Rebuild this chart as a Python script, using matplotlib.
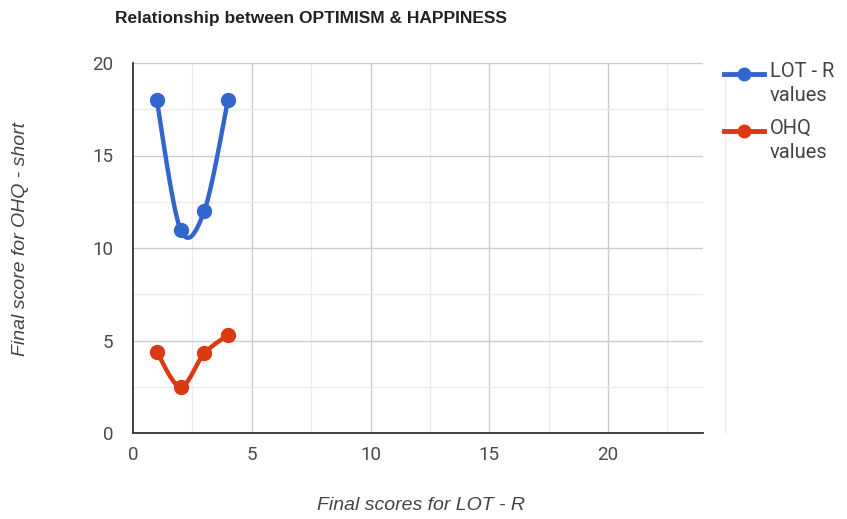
import numpy as np
import matplotlib
matplotlib.use("Agg")
import matplotlib.pyplot as plt
from matplotlib.lines import Line2D

# data
lot_x = [1, 2, 3, 4]
lot_y = [18, 11, 12, 18]
ohq_x = [1, 2, 3, 4]
ohq_y = [4.4, 2.5, 4.3, 5.3]
series_names = ["LOT - R\nvalues", "OHQ\nvalues"]
x_ticks = [0, 5, 10, 15, 20]
y_ticks = [0, 5, 10, 15, 20]

blue = "#3366cc"
red = "#dc3912"


def smooth(xs, ys, n=40):
    # catmull-rom like curve, roughly what google charts draws
    xs = np.asarray(xs, float)
    ys = np.asarray(ys, float)
    px, py = [], []
    for i in range(len(xs) - 1):
        x0, y0 = (xs[i - 1], ys[i - 1]) if i > 0 else (xs[i], ys[i])
        x3, y3 = (xs[i + 2], ys[i + 2]) if i + 2 < len(xs) else (xs[i + 1], ys[i + 1])
        x1, y1, x2, y2 = xs[i], ys[i], xs[i + 1], ys[i + 1]
        mx1, my1 = (x2 - x0) / 2, (y2 - y0) / 2
        mx2, my2 = (x3 - x1) / 2, (y3 - y1) / 2
        t = np.linspace(0, 1, n)
        h00 = 2 * t**3 - 3 * t**2 + 1
        h10 = t**3 - 2 * t**2 + t
        h01 = -2 * t**3 + 3 * t**2
        h11 = t**3 - t**2
        px.extend(h00 * x1 + h10 * mx1 + h01 * x2 + h11 * mx2)
        py.extend(h00 * y1 + h10 * my1 + h01 * y2 + h11 * my2)
    return px, py


fig = plt.figure(figsize=(8.47, 5.19), dpi=100)
ax = fig.add_axes([133 / 847, 1 - 433 / 519, 570 / 847, 370 / 519])

ax.set_xlim(0, 24)
ax.set_ylim(0, 20)

# grid
for v in np.arange(2.5, 24, 2.5):
    ax.axvline(v, color="#cccccc" if v % 5 == 0 else "#ebebeb", lw=1, zorder=0)
for v in np.arange(2.5, 20.1, 2.5):
    ax.axhline(v, color="#cccccc" if v % 5 == 0 else "#ebebeb", lw=1, zorder=0)

sx, sy = smooth(lot_x, lot_y)
ax.plot(sx, sy, color=blue, lw=3.2, solid_capstyle="round", zorder=3)
ax.plot(lot_x, lot_y, "o", color=blue, ms=10, zorder=4)
sx, sy = smooth(ohq_x, ohq_y)
ax.plot(sx, sy, color=red, lw=3.2, solid_capstyle="round", zorder=3)
ax.plot(ohq_x, ohq_y, "o", color=red, ms=10, zorder=4)

for s in ["top", "right"]:
    ax.spines[s].set_visible(False)
for s in ["left", "bottom"]:
    ax.spines[s].set_color("#333333")
    ax.spines[s].set_linewidth(1.3)
    ax.spines[s].set_zorder(5)

ax.set_xticks(x_ticks)
ax.set_yticks(y_ticks)
ax.tick_params(length=0, labelsize=13.5, labelcolor="#4a4a4a", pad=9)
ax.tick_params(axis="y", pad=14)
for lab in ax.get_xticklabels() + ax.get_yticklabels():
    lab.set_fontfamily("Roboto")

fig.text(115 / 847, 1 - 19 / 519, "Relationship between OPTIMISM & HAPPINESS",
         fontsize=12.5, fontweight="bold", family="Liberation Sans", color="#222222",
         va="center", ha="left")
fig.text(421 / 847, 1 - 506 / 519, "Final scores for LOT - R", fontsize=14,
         style="italic", family="Liberation Sans", color="#444444", ha="center", va="center")
fig.text(21 / 847, 1 - 239 / 519, "Final score for OHQ - short", fontsize=14,
         style="italic", family="Liberation Sans", color="#444444", ha="center",
         va="center", rotation=90)

# faint separator line next to the legend
fig.add_artist(Line2D([725 / 847, 725 / 847], [1 - 433 / 519, 1 - 75 / 519],
                      color="#eeeeee", lw=1))

# legend drawn by hand so the marker sits on the first text line
for name, col, yy in [(series_names[0], blue, 74), (series_names[1], red, 131)]:
    fy = 1 - yy / 519
    fig.add_artist(Line2D([724 / 847, 764 / 847], [fy, fy], color=col, lw=3.5))
    fig.add_artist(Line2D([744 / 847], [fy], marker="o", color=col, ms=9))
    fig.text(770 / 847, fy + 12 / 519, name, fontsize=14.5, family="Roboto",
             color="#444444", va="top", ha="left", linespacing=1.35)

fig.savefig("out.png", dpi=100)
